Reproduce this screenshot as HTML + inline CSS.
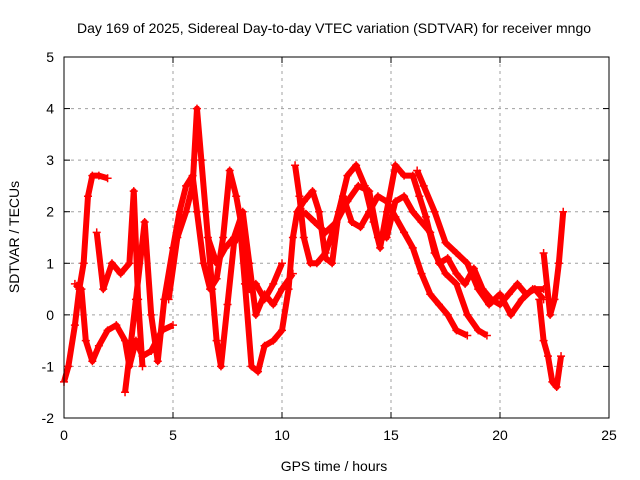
<!DOCTYPE html>
<html><head><meta charset="utf-8"><style>
body{margin:0;background:#fff}
svg{display:block;font-family:"Liberation Sans",sans-serif}
</style></head><body>
<svg id="chart" width="640" height="480">
<rect width="640" height="480" fill="#fff"/>
<text x="334" y="33" font-size="14" text-anchor="middle">Day 169 of 2025, Sidereal Day-to-day VTEC variation (SDTVAR) for receiver mngo</text>
<text x="334" y="471" font-size="14" text-anchor="middle">GPS time / hours</text>
<text transform="translate(19,237) rotate(-90)" font-size="14" text-anchor="middle">SDTVAR / TECUs</text>
<g id="grid"></g><g id="marks"></g>
<rect x="64" y="57" width="545" height="361" fill="none" stroke="#000"/>
</svg>
<script>
const xTicks=[0,5,10,15,20,25];
const yTicks=[-2,-1,0,1,2,3,4,5];
const trackA=[[0,-1.3],[0.2,-1.0],[0.5,-0.2],[0.7,0.5],[0.9,1.0],[1.1,2.3],[1.3,2.7],[1.6,2.7],[2.0,2.65]];
const trackB=[[0.5,0.6],[0.8,0.5],[1.0,-0.5],[1.3,-0.9],[1.6,-0.6],[2.0,-0.3],[2.4,-0.2],[2.8,-0.5],[3.0,-1.0],[3.3,-0.5],[3.6,-0.8],[4.0,-0.7],[4.5,-0.3],[5.0,-0.2]];
const trackC=[[1.5,1.6],[1.8,0.5],[2.2,1.0],[2.6,0.8],[3.0,1.0],[3.2,2.4],[3.4,0.3],[3.6,-1.0]];
const trackD=[[2.8,-1.5],[3.0,-0.8],[3.3,0.3],[3.7,1.8],[4.0,0.0],[4.3,-0.9],[4.6,0.3],[5.0,1.3],[5.3,2.0],[5.6,2.5],[5.9,2.7],[6.1,2.0],[6.4,1.0],[6.7,0.5],[7.0,0.7],[7.3,1.5],[7.6,2.8],[7.9,2.3],[8.2,1.6],[8.5,0.5],[8.8,0.6],[9.2,0.3],[9.6,0.6],[10.0,1.0]];
const trackE=[[4.8,0.3],[5.2,1.5],[5.6,2.0],[5.9,2.5],[6.1,4.0],[6.3,3.0],[6.5,2.0],[6.8,0.5],[7.0,-0.5],[7.2,-1.0],[7.5,0.2],[7.8,1.4],[8.1,1.6],[8.3,0.6],[8.6,-1.0],[8.9,-1.1],[9.2,-0.6],[9.6,-0.5],[10.0,-0.3],[10.3,0.5],[10.5,1.5],[10.7,2.0],[11.0,2.2],[11.4,2.4],[11.7,2.0],[12.0,1.1],[12.3,1.0],[12.6,2.0],[13.0,2.7],[13.4,2.9],[13.8,2.5],[14.2,1.8],[14.5,1.3],[14.8,2.0],[15.2,2.9],[15.6,2.7],[16.0,2.7],[16.3,2.3],[16.6,1.9],[17.0,1.2],[17.5,0.8],[18.0,0.6],[18.5,0.0],[19.0,-0.3],[19.4,-0.4]];
const trackF=[[6.6,1.5],[7.0,1.0],[7.4,1.3],[7.8,1.5],[8.2,2.0],[8.5,1.0],[8.8,0.0],[9.2,0.4],[9.6,0.2],[10.0,0.5],[10.5,0.8]];
const trackG=[[10.6,2.9],[10.8,2.3],[11.0,1.5],[11.3,1.0],[11.6,1.0],[12.0,1.2],[12.4,1.7],[12.8,2.3],[13.2,1.8],[13.6,1.7],[14.0,2.0],[14.4,2.3],[14.8,2.2],[15.2,1.9],[15.6,1.6],[16.0,1.3],[16.4,0.8],[16.8,0.4],[17.2,0.2],[17.6,0.0],[18.0,-0.3],[18.5,-0.4]];
const trackH=[[11.0,2.0],[11.5,1.8],[12.0,1.6],[12.5,1.8],[13.0,2.2],[13.5,2.5],[14.0,2.4],[14.4,1.5],[14.8,1.5],[15.2,2.2],[15.6,2.3],[16.0,2.0],[16.4,1.8],[16.8,1.6],[17.2,1.0],[17.6,1.1],[18.0,0.8],[18.4,0.6],[18.8,0.9],[19.2,0.5],[19.6,0.3],[20.0,0.2],[20.4,0.4],[20.8,0.6],[21.2,0.4],[21.6,0.5],[22.0,0.3]];
const trackI=[[16.2,2.8],[16.5,2.5],[17.0,2.0],[17.5,1.4],[18.0,1.2],[18.5,1.0],[19.0,0.5],[19.5,0.2],[20.0,0.4],[20.5,0.0],[21.0,0.3],[21.5,0.5],[22.0,0.5]];
const trackJ=[[21.8,0.3],[22.0,-0.5],[22.2,-0.8],[22.4,-1.3],[22.6,-1.4],[22.8,-0.8]];
const trackK=[[22.0,1.2],[22.3,0.0],[22.5,0.3],[22.7,1.0],[22.9,2.0]];
const tracks=[trackA,trackB,trackC,trackD,trackE,trackF,trackG,trackH,trackI,trackJ,trackK];

const X0=64,X1=609,Y0=418,Y1=57;
const xs=v=>X0+(v-0)/(25-0)*(X1-X0);
const ys=v=>Y0-(v+2)/(5+2)*(Y0-Y1);
const NS='http://www.w3.org/2000/svg';
const grid=document.getElementById('grid'),marks=document.getElementById('marks');
function mk(tag,attrs,parent){const e=document.createElementNS(NS,tag);for(const k in attrs)e.setAttribute(k,attrs[k]);parent.appendChild(e);return e;}
xTicks.forEach(t=>{
  const x=xs(t);
  if(t>0&&t<25){const g=mk('line',{x1:x,x2:x,y1:Y1,y2:Y0,stroke:'#a0a0a0','stroke-dasharray':'3,4'},grid);
  
  }
  mk('line',{x1:x,x2:x,y1:Y0,y2:Y0-6,stroke:'#000'},grid);
  mk('line',{x1:x,x2:x,y1:Y1,y2:Y1+6,stroke:'#000'},grid);
  const l=mk('text',{x:x,y:Y0+22,'font-size':14,'text-anchor':'middle'},grid);l.textContent=t;
  
  
});
yTicks.forEach(t=>{
  const y=ys(t);
  if(t>-2&&t<5){const g=mk('line',{x1:X0,x2:X1,y1:y,y2:y,stroke:'#a0a0a0','stroke-dasharray':'3,4'},grid);
  
  }
  mk('line',{x1:X0,x2:X0+6,y1:y,y2:y,stroke:'#000'},grid);
  mk('line',{x1:X1,x2:X1-6,y1:y,y2:y,stroke:'#000'},grid);
  const l=mk('text',{x:X0-10,y:y+5,'font-size':14,'text-anchor':'end'},grid);l.textContent=t;
  
  
});
tracks.forEach((tr,i)=>{
  const p=mk('polyline',{points:tr.map(d=>xs(d[0])+','+ys(d[1])).join(' '),fill:'none',stroke:'#ff0000','stroke-width':6,'stroke-linejoin':'round'},marks);
  
  
  tr.forEach(d=>{
    const x=xs(d[0]),y=ys(d[1]);
    const m=mk('path',{d:`M${x-4},${y}H${x+4}M${x},${y-4}V${y+4}`,stroke:'#ff0000','stroke-width':1.5},marks);
    
    
  });
});
</script>
</body></html>
